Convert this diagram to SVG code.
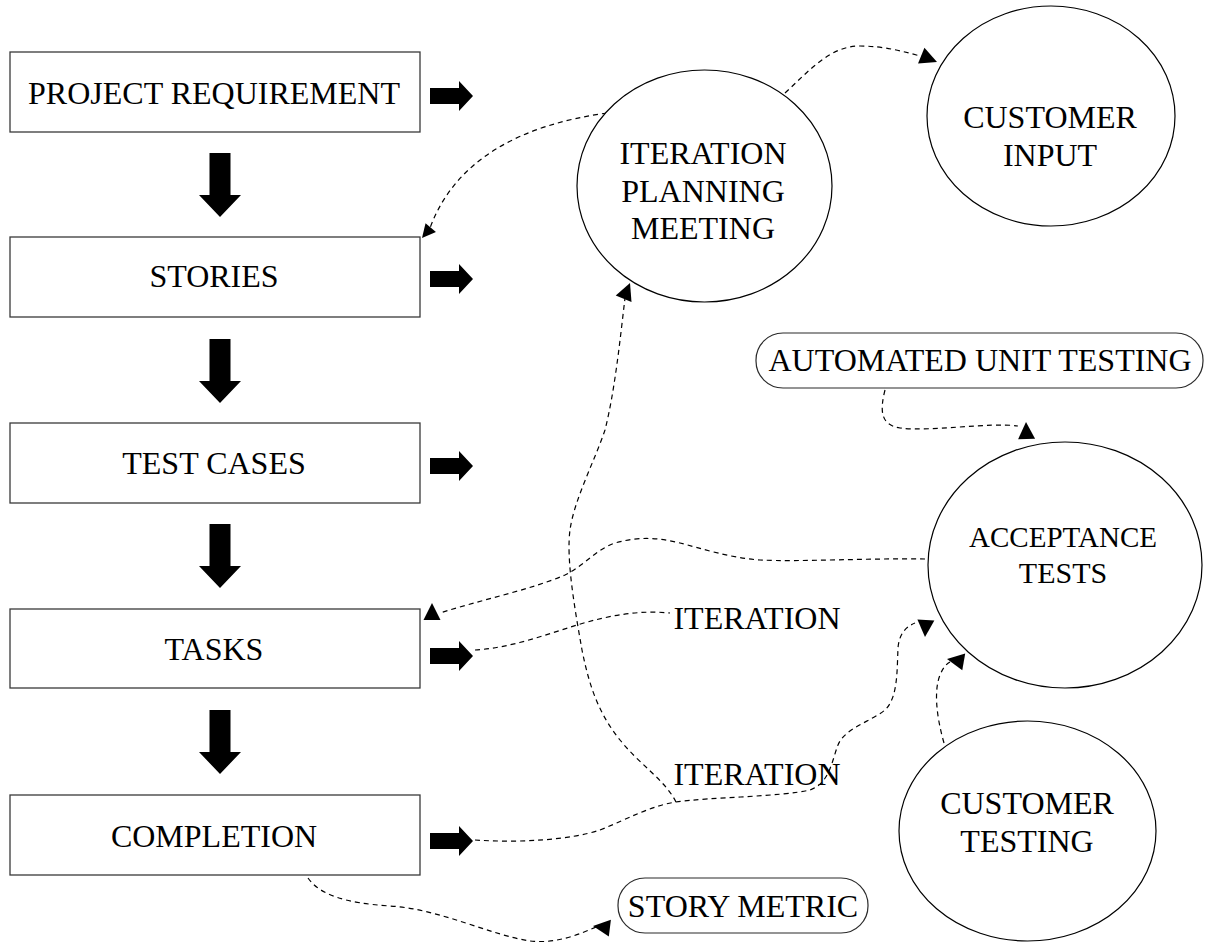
<svg xmlns="http://www.w3.org/2000/svg" xmlns:xlink="http://www.w3.org/1999/xlink" width="1205" height="942" viewBox="0 0 1205 942">
<style>
  .box { fill: #ffffff; stroke: #3a3a3a; stroke-width: 1.3; }
  .ell { fill: #ffffff; stroke: #000000; stroke-width: 1.2; }
  .pill { fill: #ffffff; stroke: #2a2a2a; stroke-width: 1.2; }
  .t { font-family: "Liberation Serif", "Times New Roman", serif; font-size: 32px; fill: #000000; text-anchor: middle; }
  .t30 { font-size: 30px; }
  .dash { fill: none; stroke: #000000; stroke-width: 1.2; stroke-dasharray: 5 4; }
  .blk { fill: #000000; }
</style>
<defs>
  <path id="rarrow" d="M0,-8 H29 V-15 L43,0 L29,15 V8 H0 Z"/>
  <path id="darrow" d="M-10.5,0 H10.5 V42 H21 L0,64 L-21,42 H-10.5 Z"/>
  <path id="ahead" d="M0,0 L-17,-8.5 L-17,8.5 Z"/>
</defs>
<rect width="1205" height="942" fill="#ffffff"/>

<g id="connectors">
  <!-- block arrows -->
  <use href="#darrow" class="blk" transform="translate(220,153)"/>
  <use href="#darrow" class="blk" transform="translate(220,339)"/>
  <use href="#darrow" class="blk" transform="translate(220,524)"/>
  <use href="#darrow" class="blk" transform="translate(220,710)"/>
  <use href="#rarrow" class="blk" transform="translate(430,96)"/>
  <use href="#rarrow" class="blk" transform="translate(430,279)"/>
  <use href="#rarrow" class="blk" transform="translate(430,466)"/>
  <use href="#rarrow" class="blk" transform="translate(430,656)"/>
  <use href="#rarrow" class="blk" transform="translate(430,841)"/>

  <!-- dashed connectors -->
  <path class="dash" d="M607,113 C520,125 455,160 430,228"/>
  <use href="#ahead" class="blk" transform="translate(422,238) rotate(130) scale(0.8)"/>

  <path class="dash" d="M785,93 C810,70 830,46 860,46 C885,46 905,52 924,57"/>
  <use href="#ahead" class="blk" transform="translate(937,62) rotate(22)"/>

  <path class="dash" d="M676,802 C665,780 640,765 620,740 C600,715 590,690 582,650 C575,610 566,560 570,530 C574,500 595,460 605,430 C615,390 620,340 625,298"/>
  <use href="#ahead" class="blk" transform="translate(630,283) rotate(-68)"/>

  <path class="dash" d="M925,559 C870,558 800,562 760,560 C730,558 700,548 680,543 C660,538 640,536 615,543 C595,550 585,565 565,575 C530,590 480,600 440,613"/>
  <use href="#ahead" class="blk" transform="translate(432,603) rotate(-90)"/>

  <path class="dash" d="M475,650 C510,648 545,635 577,625 C610,615 640,610 670,613"/>

  <path class="dash" d="M475,840 C520,843 570,840 600,830 C630,818 650,806 676,802 C710,797 780,797 810,790 C830,783 832,760 838,745 C845,728 870,722 885,710 C898,698 897,670 898,648 C899,635 905,627 915,623"/>
  <use href="#ahead" class="blk" transform="translate(925,637) rotate(93)"/>

  <path class="dash" d="M944,743 C936,715 934,690 940,675 C943,668 946,664 950,662"/>
  <use href="#ahead" class="blk" transform="translate(947,659) rotate(190)"/>

  <path class="dash" d="M885,390 C880,410 880,425 900,428 C930,432 990,422 1018,426"/>
  <use href="#ahead" class="blk" transform="translate(1026,422) rotate(-92)"/>

  <path class="dash" d="M308,878 C320,895 345,903 390,906 C440,909 490,935 530,941 C555,944 578,935 596,927"/>
  <use href="#ahead" class="blk" transform="translate(593,926) rotate(187)"/>
</g>

<g id="project-requirement">
  <rect class="box" x="10" y="52" width="410" height="80"/>
  <text class="t" x="214" y="104">PROJECT REQUIREMENT</text>
</g>
<g id="stories">
  <rect class="box" x="10" y="237" width="410" height="80"/>
  <text class="t" x="214" y="287">STORIES</text>
</g>
<g id="test-cases">
  <rect class="box" x="10" y="423" width="410" height="80"/>
  <text class="t" x="214" y="474">TEST CASES</text>
</g>
<g id="tasks">
  <rect class="box" x="10" y="609" width="410" height="79"/>
  <text class="t" x="214" y="660">TASKS</text>
</g>
<g id="completion">
  <rect class="box" x="10" y="795" width="410" height="80"/>
  <text class="t" x="214" y="847">COMPLETION</text>
</g>

<g id="iteration-planning-meeting">
  <ellipse class="ell" cx="704.5" cy="186" rx="127.5" ry="116"/>
  <text class="t" x="703" y="164">ITERATION</text>
  <text class="t" x="703" y="202">PLANNING</text>
  <text class="t" x="703" y="239">MEETING</text>
</g>
<g id="customer-input">
  <ellipse class="ell" cx="1051" cy="116" rx="124" ry="110"/>
  <text class="t" x="1050" y="128">CUSTOMER</text>
  <text class="t" x="1050" y="166">INPUT</text>
</g>
<g id="automated-unit-testing">
  <rect class="pill" x="756" y="333" width="447" height="55" rx="27" ry="27"/>
  <text class="t" x="980" y="371">AUTOMATED UNIT TESTING</text>
</g>
<g id="acceptance-tests">
  <ellipse class="ell" cx="1065" cy="565" rx="137" ry="123"/>
  <text class="t t30" x="1063" y="547" textLength="188" lengthAdjust="spacingAndGlyphs">ACCEPTANCE</text>
  <text class="t t30" x="1063" y="583">TESTS</text>
</g>
<g id="customer-testing">
  <ellipse class="ell" cx="1027.5" cy="831" rx="128.5" ry="110"/>
  <text class="t" x="1027" y="814">CUSTOMER</text>
  <text class="t" x="1027" y="852">TESTING</text>
</g>
<g id="story-metric">
  <rect class="pill" x="618" y="878" width="250" height="55" rx="27" ry="27"/>
  <text class="t" x="743" y="917">STORY METRIC</text>
</g>
<g id="iteration-label-1">
  <text class="t" x="757" y="629">ITERATION</text>
</g>
<g id="iteration-label-2">
  <text class="t" x="757" y="785">ITERATION</text>
</g>
</svg>
